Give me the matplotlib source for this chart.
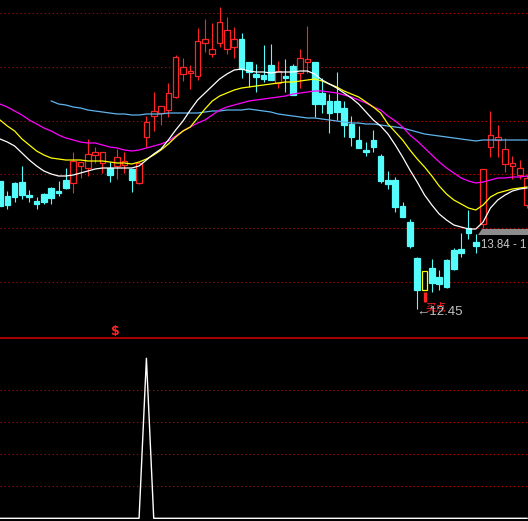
import matplotlib
matplotlib.use('Agg')
import matplotlib.pyplot as plt
from matplotlib.patches import Rectangle, Polygon
from matplotlib.lines import Line2D
import numpy as np

plt.rcParams['font.family'] = ['Liberation Sans', 'DejaVu Sans']

# 日K线: 开盘, 收盘, 最高, 最低
opens = [15.01, 14.71, 14.97, 14.99, 14.73, 14.61, 14.75, 14.87, 14.81, 15.03,
         14.97, 15.31, 15.27, 15.53, 15.37, 15.27, 15.31, 15.33, 15.25, 14.97,
         15.89, 16.31, 16.37, 16.43, 16.69, 17.15, 17.17, 17.11, 17.77, 17.55,
         17.77, 17.65, 17.69, 17.85, 17.39, 17.15, 17.13, 17.33, 16.97, 17.11,
         17.31, 17.17, 17.39, 17.39, 16.77, 16.61, 16.61, 16.47, 16.15, 15.83,
         15.63, 15.83, 15.51, 15.03, 15.03, 14.51, 14.19, 13.47, 12.83, 13.27,
         13.09, 13.43, 13.63, 13.65, 14.07, 13.79, 14.15, 15.69, 15.83, 15.35,
         15.31, 15.13, 14.53]
closes = [14.51, 14.53, 14.69, 14.73, 14.69, 14.55, 14.59, 14.67, 14.77, 14.87,
          15.41, 15.39, 15.55, 15.59, 15.59, 15.13, 15.49, 15.41, 15.03, 15.37,
          16.19, 16.41, 16.51, 16.77, 17.49, 17.29, 17.21, 17.81, 17.85, 17.65,
          18.19, 18.03, 17.85, 17.25, 17.19, 17.09, 17.05, 17.03, 17.21, 17.07,
          16.73, 17.47, 17.45, 16.55, 16.55, 16.37, 16.39, 16.13, 15.89, 15.67,
          15.59, 15.69, 15.01, 14.95, 14.49, 14.29, 13.71, 12.83, 13.21, 12.97,
          12.95, 12.89, 13.25, 13.57, 13.97, 13.71, 15.25, 15.93, 15.89, 15.65,
          15.37, 15.27, 15.07]
highs = [15.01, 14.81, 14.99, 15.31, 14.83, 14.69, 14.77, 14.89, 15.01, 15.27,
         15.59, 15.39, 15.85, 15.69, 15.59, 15.39, 15.65, 15.59, 15.25, 15.39,
         16.31, 16.79, 16.51, 16.97, 17.53, 17.47, 17.33, 18.07, 18.25, 18.17,
         18.49, 18.29, 18.09, 17.97, 17.39, 17.35, 17.73, 17.75, 17.41, 17.45,
         17.35, 17.65, 18.11, 17.39, 17.07, 16.75, 17.19, 16.61, 16.31, 16.11,
         15.79, 16.03, 15.55, 15.21, 15.09, 14.59, 14.25, 13.49, 13.21, 13.45,
         13.23, 13.45, 13.67, 13.97, 14.43, 13.95, 15.25, 16.41, 16.13, 15.87,
         15.51, 15.43, 15.13]
lows = [14.51, 14.45, 14.59, 14.65, 14.59, 14.45, 14.55, 14.55, 14.71, 14.85,
        14.77, 15.07, 15.11, 15.37, 15.17, 14.99, 15.05, 15.17, 14.79, 14.95,
        15.69, 16.01, 16.13, 16.29, 16.67, 17.01, 16.85, 17.03, 17.59, 17.49,
        17.69, 17.55, 17.47, 17.07, 16.89, 16.79, 16.99, 17.03, 16.87, 16.79,
        16.73, 16.87, 17.17, 16.29, 16.37, 15.97, 16.23, 15.89, 15.71, 15.67,
        15.51, 15.59, 14.97, 14.85, 14.39, 14.29, 13.67, 12.45, 12.83, 12.79,
        12.83, 12.87, 13.23, 13.49, 13.85, 13.57, 14.07, 15.49, 15.49, 15.19,
        15.05, 15.05, 14.47]

# 均线
ma_white = [15.85, 15.79, 15.71, 15.57, 15.43, 15.31, 15.21, 15.15, 15.11, 15.11,
            15.13, 15.17, 15.21, 15.25, 15.27, 15.27, 15.27, 15.27, 15.27, 15.31,
            15.43, 15.55, 15.65, 15.83, 16.03, 16.21, 16.43, 16.63, 16.77, 16.91,
            17.05, 17.15, 17.23, 17.25, 17.21, 17.19, 17.19, 17.17, 17.19, 17.19,
            17.19, 17.21, 17.21, 17.15, 17.03, 16.95, 16.87, 16.77, 16.67, 16.55,
            16.39, 16.23, 16.11, 15.95, 15.73, 15.49, 15.23, 14.99, 14.73, 14.53,
            14.35, 14.23, 14.13, 14.09, 14.05, 14.05, 14.19, 14.47, 14.63, 14.73,
            14.81, 14.85, 14.87]
ma_yellow = [16.23, 16.11, 16.01, 15.85, 15.73, 15.61, 15.53, 15.47, 15.45, 15.43,
             15.43, 15.43, 15.41, 15.41, 15.41, 15.39, 15.37, 15.37, 15.35, 15.39,
             15.45, 15.53, 15.63, 15.75, 15.89, 16.01, 16.09, 16.27, 16.45, 16.61,
             16.71, 16.77, 16.83, 16.87, 16.89, 16.91, 16.93, 16.95, 16.97, 16.99,
             16.99, 17.01, 17.03, 17.05, 17.01, 16.95, 16.89, 16.81, 16.75, 16.69,
             16.59, 16.49, 16.37, 16.15, 15.99, 15.83, 15.63, 15.45, 15.29, 15.11,
             14.91, 14.75, 14.63, 14.55, 14.47, 14.43, 14.53, 14.69, 14.77, 14.81,
             14.85, 14.87, 14.89]
ma_magenta = [16.55, 16.49, 16.41, 16.33, 16.23, 16.15, 16.07, 16.01, 15.93, 15.87,
              15.83, 15.79, 15.77, 15.77, 15.73, 15.69, 15.67, 15.63, 15.61, 15.63,
              15.67, 15.71, 15.75, 15.81, 15.91, 16.01, 16.09, 16.17, 16.23, 16.33,
              16.43, 16.49, 16.53, 16.57, 16.61, 16.63, 16.65, 16.67, 16.69, 16.71,
              16.75, 16.77, 16.79, 16.81, 16.81, 16.79, 16.77, 16.73, 16.69, 16.63,
              16.57, 16.49, 16.43, 16.31, 16.21, 16.09, 15.93, 15.81, 15.67, 15.53,
              15.39, 15.27, 15.17, 15.07, 15.01, 14.97, 14.99, 15.03, 15.07, 15.07,
              15.09, 15.09, 15.11]
ma_blue = [np.nan, np.nan, np.nan, np.nan, np.nan, np.nan, np.nan, 16.61, 16.55, 16.53,
           16.49, 16.47, 16.43, 16.41, 16.39, 16.37, 16.35, 16.35, 16.33, 16.33,
           16.35, 16.35, 16.35, 16.37, 16.37, 16.37, 16.37, 16.37, 16.39, 16.41,
           16.41, 16.43, 16.43, 16.43, 16.45, 16.43, 16.41, 16.39, 16.35, 16.33,
           16.31, 16.29, 16.27, 16.27, 16.25, 16.23, 16.21, 16.19, 16.17, 16.17,
           16.15, 16.15, 16.13, 16.11, 16.09, 16.07, 16.03, 15.99, 15.95, 15.93,
           15.91, 15.89, 15.87, 15.85, 15.83, 15.81, 15.83, 15.83, 15.83, 15.83,
           15.83, 15.83, 15.83]

# 买点信号: 黄色K线及其下方的红柱
mark_bar = 58
mark_top, mark_bottom = 12.79, 12.59
low_label = '←12.45'
range_label = '13.84 - 1'

# 副图指标
signal = [0, 0, 0, 0, 0, 0, 0, 0, 0, 0,
          0, 0, 0, 0, 0, 0, 0, 0, 0, 0,
          100, 0, 0, 0, 0, 0, 0, 0, 0, 0,
          0, 0, 0, 0, 0, 0, 0, 0, 0, 0,
          0, 0, 0, 0, 0, 0, 0, 0, 0, 0,
          0, 0, 0, 0, 0, 0, 0, 0, 0, 0,
          0, 0, 0, 0, 0, 0, 0, 0, 0, 0,
          0, 0, 0]
dollar_at = 15.7

RED = '#ff2424'
CYAN = '#54fcfc'
GRID = '#b40000'
DOTS = (0, (1.3, 2.55))

n = len(opens)
idx = np.arange(n)
xmax = 528 / 7.32

fig = plt.figure(figsize=(5.28, 5.21), dpi=100, facecolor='black')
ax = fig.add_axes([0, 183 / 521, 1, 338 / 521])
ax2 = fig.add_axes([0, 0, 1, 182 / 521])
for a in (ax, ax2):
    a.set_facecolor('black')
    a.set_xticks([])
    a.set_yticks([])
    for s in a.spines.values():
        s.set_visible(False)

# 主图
ax.set_xlim(0, xmax)
ax.set_ylim(11.87, 18.63)
for lv in [18.38, 17.30, 16.22, 15.15, 14.07, 13.00]:
    ax.axhline(lv, color=GRID, lw=0.75, ls=DOTS, zorder=1)

for i in range(n):
    o, c, h, l = opens[i], closes[i], highs[i], lows[i]
    up = c >= o
    col = RED if up else CYAN
    if i == mark_bar:
        col = '#ffff00'
    lo, hi = min(o, c), max(o, c)
    if up:
        ax.vlines(i, hi, h, color=col, lw=0.8, zorder=2)
        ax.vlines(i, l, lo, color=col, lw=0.8, zorder=2)
        ax.add_patch(Rectangle((i - 0.38, lo), 0.76, hi - lo, facecolor='black',
                               edgecolor=col, lw=0.9, zorder=3))
    else:
        ax.vlines(i, l, h, color=col, lw=0.8, zorder=2)
        ax.add_patch(Rectangle((i - 0.38, lo), 0.76, max(hi - lo, 0.02), facecolor=col,
                               edgecolor=col, lw=0.9, zorder=3))

ax.vlines(mark_bar, mark_bottom, mark_top, color=RED, lw=2.4, zorder=3)

ax.plot(idx, ma_blue, color='#5fb4ee', lw=0.9, zorder=4)
ax.plot(idx, ma_magenta, color='#ff00ff', lw=0.9, zorder=4)
ax.plot(idx, ma_yellow, color='#ffff00', lw=0.9, zorder=4)
ax.plot(idx, ma_white, color='white', lw=0.9, zorder=4)

# 现价标记条
ax.add_patch(Polygon([(65.3, 13.93), (xmax, 13.93), (xmax, 14.05), (65.9, 14.05)],
                     closed=True, facecolor='#8c8c8c', edgecolor='none', zorder=5))
ax.text(65.7, 13.73, range_label, color='#c8c8c8', fontsize=8.3,
        ha='left', va='center', zorder=6)

ax.text(58.1, 12.57, '买点', color=RED, fontsize=7.5, ha='left', va='top',
        family=['Noto Sans CJK SC', 'DejaVu Sans'], zorder=6)
ax.text(56.9, 12.39, low_label, color='#c0c0c0', fontsize=9.5,
        ha='left', va='center', zorder=7)

ax.text(dollar_at, 12.01, '$', color=RED, fontsize=9, fontweight='bold',
        ha='center', va='center', family='DejaVu Sans')

# 分隔线
fig.add_artist(Line2D([0, 1], [182.7 / 521, 182.7 / 521], color='#c80000', lw=1.2,
                      transform=fig.transFigure))

# 副图
ax2.set_xlim(0, xmax)
ax2.set_ylim(-1.69, 112.06)
for lv in [20, 40, 60, 80]:
    ax2.axhline(lv, color=GRID, lw=0.75, ls=DOTS, zorder=1)
ax2.plot(idx, signal, color='white', lw=1.0, zorder=3)

fig.savefig('out.png', dpi=100, facecolor='black')
